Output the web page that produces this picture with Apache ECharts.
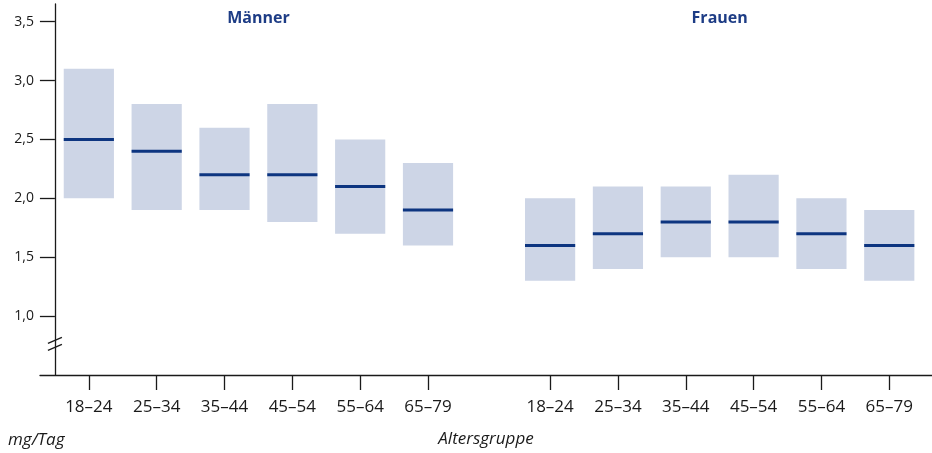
<!DOCTYPE html>
<html><head><meta charset="utf-8">
<script src="https://cdn.jsdelivr.net/npm/echarts@6/dist/echarts.min.js"></script>
<style>html,body{margin:0;padding:0;background:#fff}#c{width:932px;height:453px}</style>
</head><body><div id="c"></div>
<script>
const ageGroups = ['18–24','25–34','35–44','45–54','55–64','65–79'];
const groupTitles = ['Männer','Frauen'];
// x positions (in category-spacing units) of the boxes
const menPos   = [0.5, 1.5, 2.5, 3.5, 4.5, 5.5];
const womenPos = [7.3, 8.3, 9.3, 10.3, 11.3, 12.3];
// values in mg/Tag
const menLow    = [2.0, 1.9, 1.9, 1.8, 1.7, 1.6];
const menHigh   = [3.1, 2.8, 2.6, 2.8, 2.5, 2.3];
const menMed    = [2.5, 2.4, 2.2, 2.2, 2.1, 1.9];
const womenLow  = [1.3, 1.4, 1.5, 1.5, 1.4, 1.3];
const womenHigh = [2.0, 2.1, 2.1, 2.2, 2.0, 1.9];
const womenMed  = [1.6, 1.7, 1.8, 1.8, 1.7, 1.6];
const yTicks = [1.0, 1.5, 2.0, 2.5, 3.0, 3.5];

const FONT = 'Open Sans';
const allPos = menPos.concat(womenPos);
const labelMap = {};
allPos.forEach((p, i) => { labelMap[p.toFixed(2)] = ageGroups[i % 6]; });

const data = [];
menPos.forEach((p, i) => data.push([p, menLow[i], menHigh[i], menMed[i]]));
womenPos.forEach((p, i) => data.push([p, womenLow[i], womenHigh[i], womenMed[i]]));

const chart = echarts.init(document.getElementById('c'), null, {renderer: 'canvas'});
const option = {
  animation: false,
  grid: {left: 40, right: 0, top: 4, bottom: 77},
  xAxis: {
    type: 'value', min: -0.22, max: 12.93,
    splitLine: {show: false},
    axisLine: {lineStyle: {color: '#1a1a1a', width: 1.3}},
    axisTick: {show: true, customValues: allPos, length: 15, lineStyle: {color: '#1a1a1a', width: 1.3}},
    axisLabel: {customValues: allPos, margin: 24, color: '#1a1a1a', fontFamily: FONT, fontSize: 17,
      formatter: v => labelMap[Number(v).toFixed(2)] || ''},
    name: 'Altersgruppe', nameLocation: 'middle', nameGap: 56,
    nameTextStyle: {fontFamily: FONT, fontStyle: 'italic', fontSize: 17, color: '#1a1a1a'}
  },
  yAxis: {
    type: 'value', min: 0.5, max: 3.65,
    splitLine: {show: false},
    axisLine: {show: true, onZero: true, lineStyle: {color: '#1a1a1a', width: 1.3}},
    axisTick: {show: true, customValues: yTicks, length: 15, lineStyle: {color: '#1a1a1a', width: 1.3}},
    axisLabel: {customValues: yTicks, margin: 6, color: '#1a1a1a', fontFamily: FONT, fontSize: 14,
      formatter: v => Number(v).toFixed(1).replace('.', ',')}
  },
  series: [{
    type: 'custom',
    data: data,
    encode: {x: 0, y: [1, 2, 3]},
    renderItem: function (params, api) {
      const x = api.value(0);
      const lo = api.coord([x, api.value(1)]);
      const hi = api.coord([x, api.value(2)]);
      const md = api.coord([x, api.value(3)]);
      const w = api.size([0.74, 0])[0];
      return {type: 'group', children: [
        {type: 'rect', shape: {x: lo[0] - w / 2, y: hi[1], width: w, height: lo[1] - hi[1]},
          style: {fill: '#cdd5e6'}},
        {type: 'line', shape: {x1: md[0] - w / 2, y1: md[1], x2: md[0] + w / 2, y2: md[1]},
          style: {stroke: '#0d3580', lineWidth: 3}}
      ]};
    }
  }]
};
chart.setOption(option);

const c1 = chart.convertToPixel({gridIndex: 0}, [(menPos[0] + menPos[5]) / 2, 3.5]);
const c2 = chart.convertToPixel({gridIndex: 0}, [(womenPos[0] + womenPos[5]) / 2, 3.5]);
const brk = chart.convertToPixel({gridIndex: 0}, [0, 0.76]);
chart.setOption({
  graphic: [
    {type: 'text', x: c1[0], y: 18, style: {text: groupTitles[0], align: 'center', verticalAlign: 'middle',
      font: 'bold 16px "Open Sans"', fill: '#1d3c85'}},
    {type: 'text', x: c2[0], y: 18, style: {text: groupTitles[1], align: 'center', verticalAlign: 'middle',
      font: 'bold 16px "Open Sans"', fill: '#1d3c85'}},
    {type: 'text', x: 8, y: 440, style: {text: 'mg/Tag', verticalAlign: 'middle', font: 'italic 17px "Open Sans"', fill: '#1a1a1a'}},
    {type: 'line', shape: {x1: brk[0] - 7, y1: brk[1] - 1, x2: brk[0] + 7, y2: brk[1] - 7},
      style: {stroke: '#1a1a1a', lineWidth: 1.3}},
    {type: 'line', shape: {x1: brk[0] - 7, y1: brk[1] + 6, x2: brk[0] + 7, y2: brk[1]},
      style: {stroke: '#1a1a1a', lineWidth: 1.3}}
  ]
});
</script>
</body></html>
